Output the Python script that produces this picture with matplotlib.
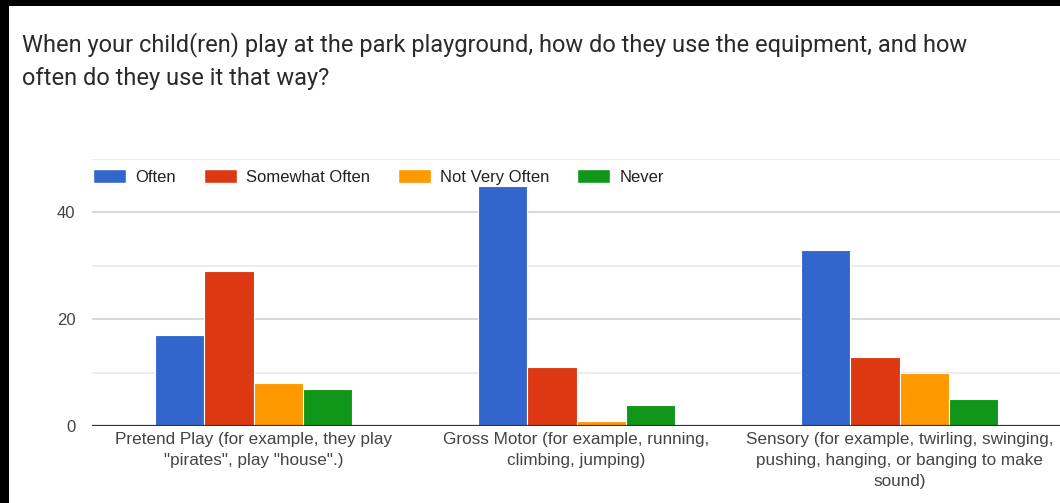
import matplotlib.pyplot as plt
import numpy as np
from matplotlib.patches import Rectangle, Patch

# datos
categorias = ['Pretend Play (for example, they play\n"pirates", play "house".)',
              'Gross Motor (for example, running,\nclimbing, jumping)',
              'Sensory (for example, twirling, swinging,\npushing, hanging, or banging to make\nsound)']
series = ['Often', 'Somewhat Often', 'Not Very Often', 'Never']
often = [17, 45, 33]
somewhat_often = [29, 11, 13]
not_very_often = [8, 1, 10]
never = [7, 4, 5]
colores = ['#3366cc', '#dc3912', '#ff9900', '#109618']
yticks = [0, 20, 40]

W, H = 1060, 503
fig = plt.figure(figsize=(W / 100, H / 100), dpi=100)
fig.patch.set_facecolor('white')

ax = fig.add_axes([92 / W, 77 / H, 969 / W, 267 / H])
ax.set_xlim(-0.5, 2.5)
ax.set_ylim(0, 50)

# lineas de la cuadricula
for v in [10, 30, 50]:
    ax.axhline(v, color='#ebebeb', lw=1.3, zorder=0)
for v in [20, 40]:
    ax.axhline(v, color='#d6d6d6', lw=1.3, zorder=0)

x = np.arange(len(categorias))
ancho = 0.152
valores = [often, somewhat_often, not_very_often, never]
for i, (nombre, vals) in enumerate(zip(series, valores)):
    ax.bar(x + (i - 1.5) * ancho, vals, width=ancho, color=colores[i],
           edgecolor='white', linewidth=0.8, zorder=2)

ax.axhline(0, color='#333333', lw=1.6, zorder=3)

for s in ax.spines.values():
    s.set_visible(False)

ax.set_yticks(yticks)
ax.set_yticklabels([str(t) for t in yticks], fontsize=12, color='#444444',
                   family='Liberation Sans')
ax.tick_params(axis='y', length=0, pad=12)
ax.set_xticks(x)
ax.set_xticklabels(categorias, fontsize=12.3, color='#444444',
                   family='Liberation Sans', linespacing=1.52)
ax.tick_params(axis='x', length=0, pad=4)

# leyenda
handles = [Patch(facecolor=c, edgecolor='white', label=n) for c, n in zip(colores, series)]
leg = ax.legend(handles=handles, ncol=4, loc='center left',
                bbox_to_anchor=(93 / W, 1 - 177 / H), bbox_transform=fig.transFigure,
                frameon=False, borderpad=0, borderaxespad=0,
                handlelength=2.0, handleheight=0.9, handletextpad=0.55,
                columnspacing=1.65, prop={'family': 'Liberation Sans', 'size': 12})
for t in leg.get_texts():
    t.set_color('#222222')

# titulo
fig.text(22 / W, 1 - 32 / H,
         'When your child(ren) play at the park playground, how do they use the equipment, and how\n'
         'often do they use it that way?',
         fontsize=17, family='Roboto', color='#2a2a2a', va='top', ha='left',
         linespacing=1.55)

# marco negro
fig.patches.append(Rectangle((0, 0), 9 / W, 1, transform=fig.transFigure,
                             facecolor='black', edgecolor='none', zorder=10))
fig.patches.append(Rectangle((0, 1 - 6 / H), 1, 6 / H, transform=fig.transFigure,
                             facecolor='black', edgecolor='none', zorder=10))

fig.savefig('out.png', dpi=100)
